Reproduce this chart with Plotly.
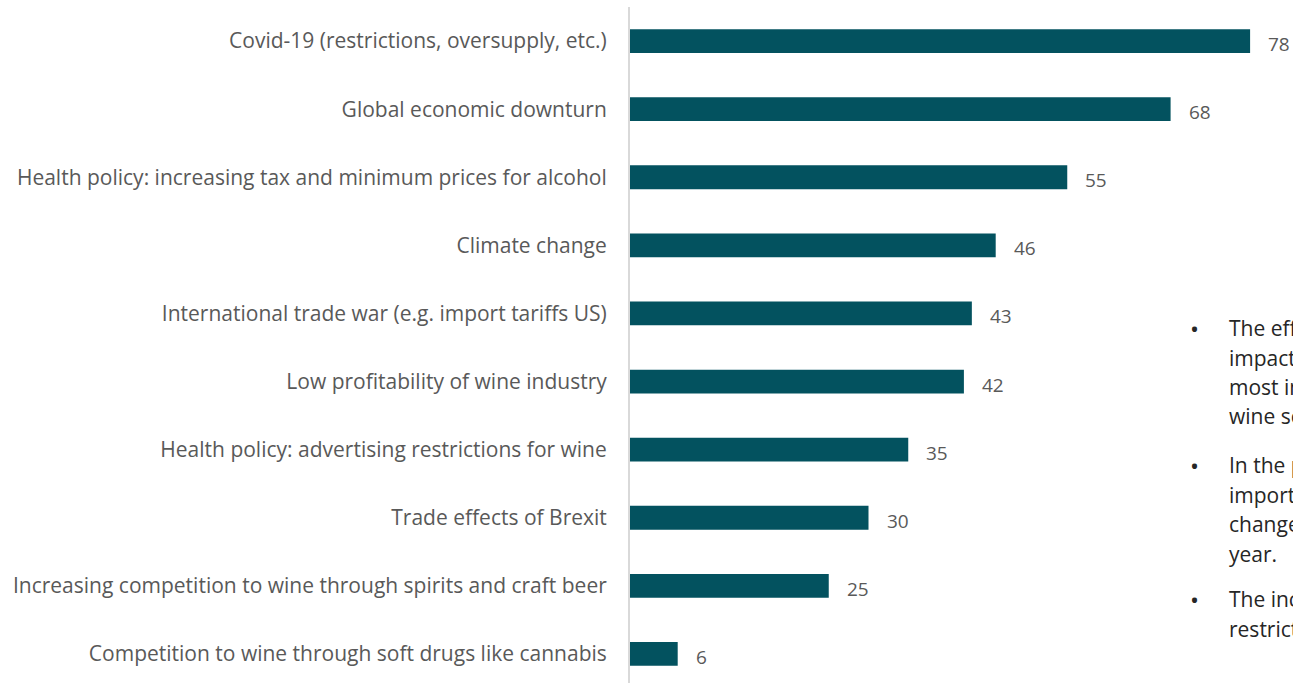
import plotly.graph_objects as go

# Survey: factors with the strongest negative impact on the wine sector (share of respondents)
categories = [
    "Covid-19 (restrictions, oversupply, etc.)",
    "Global economic downturn",
    "Health policy: increasing tax and minimum prices for alcohol",
    "Climate change",
    "International trade war (e.g. import tariffs US)",
    "Low profitability of wine industry",
    "Health policy: advertising restrictions for wine",
    "Trade effects of Brexit",
    "Increasing competition to wine through spirits and craft beer",
    "Competition to wine through soft drugs like cannabis",
]
values = [78, 68, 55, 46, 43, 42, 35, 30, 25, 6]

# Side commentary, one list of lines per bullet
bullets = [
    ["The effects of Covid-19 have the strongest",
     "impact and are rated as the",
     "most important challenge for the",
     "wine sector this year."],
    ["In the previous survey, the most",
     "important factors were climate",
     "change and trade wars in the previous",
     "year."],
    ["The increasing tax and advertising",
     "restrictions follow in the ranking."],
]

BAR = "#03525F"
LABEL = "#595959"
FONT = "Open Sans"

fig = go.Figure(
    go.Bar(
        x=values,
        y=categories,
        orientation="h",
        marker=dict(color=BAR, line=dict(width=0)),
        width=0.35,
        hoverinfo="skip",
    )
)

# value labels to the right of each bar
for cat, v in zip(categories, values):
    fig.add_annotation(
        x=v, y=cat, xref="x", yref="y",
        text=str(v), showarrow=False,
        xanchor="left", yanchor="middle",
        xshift=16, yshift=-3,
        font=dict(family=FONT, size=19, color=LABEL),
    )

# bullet commentary on the right
line_h = 29.5
para_y = [328, 465, 599]
for lines, y0 in zip(bullets, para_y):
    fig.add_annotation(
        x=1188, y=y0, xref="paper", yref="paper", text="•",
        showarrow=False, xanchor="left", yanchor="middle",
        font=dict(family=FONT, size=24, color="#262626"),
    )
    for i, ln in enumerate(lines):
        fig.add_annotation(
            x=1227, y=y0 + i * line_h, xref="paper", yref="paper", text=ln,
            showarrow=False, xanchor="left", yanchor="middle",
            font=dict(family=FONT, size=21, color="#262626"),
        )

# convert pixel positions of the commentary to paper coordinates
L, R, T, B = 630, 0, 7, 0
W, H = 1293, 683
pw, ph = W - L - R, H - T - B
for a in fig.layout.annotations:
    if a.xref == "paper":
        a.x = (a.x - L) / pw
        a.y = 1 - (a.y - T) / ph

fig.update_layout(
    width=W, height=H,
    margin=dict(l=L, r=R, t=T, b=B, pad=0),
    plot_bgcolor="white", paper_bgcolor="white",
    showlegend=False,
    font=dict(family=FONT, color=LABEL),
    xaxis=dict(range=[0, pw / 7.95], visible=False, fixedrange=True),
    yaxis=dict(
        categoryorder="array", categoryarray=categories,
        range=[-0.5 + ph / 68.1, -0.5],
        showline=True, linecolor="#d9d9d9", linewidth=2,
        showgrid=False, zeroline=False, ticks="",
        ticklabelstandoff=17,
        tickfont=dict(family=FONT, size=21, color=LABEL),
        fixedrange=True,
    ),
)

fig.write_html("out.html")
